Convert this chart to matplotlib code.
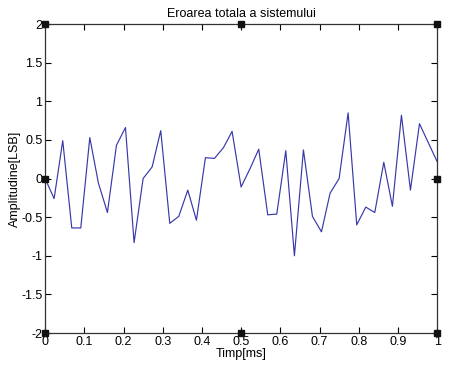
import matplotlib.pyplot as plt

plt.rcParams['font.family'] = ['Liberation Sans', 'DejaVu Sans']

timp = [0.000, 0.023, 0.045, 0.068, 0.091, 0.114, 0.136, 0.159, 0.182, 0.205,
        0.227, 0.250, 0.273, 0.295, 0.318, 0.341, 0.364, 0.386, 0.409, 0.432,
        0.455, 0.477, 0.500, 0.523, 0.545, 0.568, 0.591, 0.614, 0.636, 0.659,
        0.682, 0.705, 0.727, 0.750, 0.773, 0.795, 0.818, 0.841, 0.864, 0.886,
        0.909, 0.932, 0.955, 0.977, 1.000]
eroare = [0.00, -0.26, 0.49, -0.64, -0.64, 0.53, -0.06, -0.44, 0.43, 0.66,
          -0.83, 0.00, 0.15, 0.62, -0.58, -0.49, -0.15, -0.54, 0.27, 0.26,
          0.40, 0.61, -0.11, 0.13, 0.38, -0.47, -0.46, 0.36, -1.00, 0.37,
          -0.49, -0.69, -0.19, 0.00, 0.85, -0.60, -0.37, -0.44, 0.21, -0.36,
          0.82, -0.15, 0.71, 0.47, 0.22]

# selection handles left on the exported figure
handle_x = [0, 0.5, 1, 0, 1, 0, 0.5, 1]
handle_y = [2, 2, 2, 0, 0, -2, -2, -2]

xticks = [0, 0.1, 0.2, 0.3, 0.4, 0.5, 0.6, 0.7, 0.8, 0.9, 1]
xtick_labels = ['0', '0.1', '0.2', '0.3', '0.4', '0.5', '0.6', '0.7', '0.8', '0.9', '1']
yticks = [-2, -1.5, -1, -0.5, 0, 0.5, 1, 1.5, 2]
ytick_labels = ['-2', '-1.5', '-1', '-0.5', '0', '0.5', '1', '1.5', '2']

fig = plt.figure(figsize=(4.65, 3.7), dpi=100)
ax = fig.add_axes([0.097, 0.1, 0.843, 0.835])

ax.plot(timp, eroare, color='#3838aa', linewidth=0.85)
ax.plot(handle_x, handle_y, 's', color='#111111', markersize=4,
        clip_on=False, zorder=5)

ax.set_xlim(0, 1)
ax.set_ylim(-2, 2)
ax.set_xticks(xticks)
ax.set_xticklabels(xtick_labels)
ax.set_yticks(yticks)
ax.set_yticklabels(ytick_labels)
ax.tick_params(direction='in', top=True, right=True, length=4, width=0.8,
               labelsize=9, pad=2)
for s in ax.spines.values():
    s.set_linewidth(0.9)
    s.set_color('#333333')

ax.set_title('Eroarea totala a sistemului', fontsize=9, pad=5)
ax.set_xlabel('Timp[ms]', fontsize=9, labelpad=0)
ax.set_ylabel('Amplitudine[LSB]', fontsize=9, labelpad=0)

fig.savefig('out.png', dpi=100)
